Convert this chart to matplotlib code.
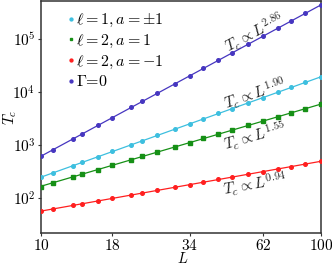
import matplotlib
matplotlib.use("Agg")
import matplotlib.pyplot as plt
import numpy as np

plt.rcParams["mathtext.fontset"] = "cm"
plt.rcParams["font.family"] = "serif"
plt.rcParams["font.serif"] = ["cmr10", "DejaVu Serif"]
plt.rcParams["axes.formatter.use_mathtext"] = True

# system sizes
L = [10, 11, 13, 14, 16, 18, 21, 23, 26, 30, 34, 38, 43, 48, 55, 62, 70, 78, 88, 100]

# critical temperatures
Tc_l1 = [248, 297, 405, 472, 600, 760, 1010, 1210, 1520, 2000, 2530, 3120, 3950, 4870,
         6300, 7900, 9900, 12200, 15300, 18900]
Tc_l2_ap = [165, 196, 250, 285, 345, 420, 528, 612, 735, 925, 1115, 1335, 1605, 1905,
            2350, 2830, 3420, 4040, 4870, 5900]
Tc_l2_am = [57, 62, 73, 78, 89, 99, 114, 125, 140, 160, 180, 200, 225, 249,
            283, 316, 355, 393, 440, 492]
Tc_gamma0 = [615, 810, 1300, 1610, 2360, 3300, 5150, 6680, 9480, 14200, 20400, 28000,
             39800, 54500, 80500, 113000, 160000, 218000, 305000, 432000]

labels = [r"$\ell=1, a=\pm1$", r"$\ell=2, a=1$", r"$\ell=2, a=-1$", r"$\Gamma$=0"]

fig = plt.figure(figsize=(3.32, 2.66), dpi=100)
ax = fig.add_axes([0.1235, 0.124, 0.8435, 0.872])

series = [
    (Tc_l1, "#3dbfdf", "o"),
    (Tc_l2_ap, "#169016", "s"),
    (Tc_l2_am, "#ff1f1f", "o"),
    (Tc_gamma0, "#4636c0", "o"),
]

Lx = np.array(L, dtype=float)
for (T, c, m), lab in zip(series, labels):
    T = np.array(T, dtype=float)
    p = np.polyfit(np.log10(Lx), np.log10(T), 1)
    xf = np.array([10, 100.0])
    ax.plot(xf, 10 ** np.polyval(p, np.log10(xf)), color=c, lw=0.9, zorder=2)
    ax.plot(Lx, T, ls="none", marker=m, ms=2.6, color=c, label=lab, zorder=3)

ax.set_xscale("log")
ax.set_yscale("log")
ax.set_xlim(10, 100)
ax.set_ylim(22, 5.2e5)
ax.set_xticks([10, 18, 34, 62, 100])
ax.set_xticklabels(["$10$", "$18$", "$34$", "$62$", "$100$"])
ax.xaxis.set_minor_locator(matplotlib.ticker.NullLocator())
ax.set_yticks([1e2, 1e3, 1e4, 1e5])
ax.set_yticklabels([r"$10^2$", r"$10^3$", r"$10^4$", r"$10^5$"])
ax.yaxis.set_minor_locator(matplotlib.ticker.NullLocator())
ax.tick_params(labelsize=11, length=2.5, width=0.8, pad=1.5, color="#333333")
ax.tick_params(axis="x", pad=1)
for s in ax.spines.values():
    s.set_linewidth(1.1)
    s.set_color("#333333")

ax.set_xlabel("$L$", fontsize=10.5)
ax.set_ylabel("$T_c$", fontsize=11)
ax.xaxis.set_label_coords(0.507, -0.079)
ax.yaxis.set_label_coords(-0.08, 0.5)

# exponent annotations along the fitted lines
ax.text(58, 1.3e5, r"$T_c\propto L^{2.86}$", fontsize=11, rotation=28,
        ha="center", va="center", color="#222222")
ax.text(58, 9.3e3, r"$T_c\propto L^{1.90}$", fontsize=11, rotation=19,
        ha="center", va="center", color="#222222")
ax.text(58, 1.5e3, r"$T_c\propto L^{1.55}$", fontsize=11, rotation=16,
        ha="center", va="center", color="#222222")
ax.text(58, 1.8e2, r"$T_c\propto L^{0.94}$", fontsize=11, rotation=10,
        ha="center", va="center", color="#222222")

ax.legend(loc="upper left", frameon=False, fontsize=11.5, handlelength=0.4,
          handletextpad=0.15, labelspacing=0.22, markerscale=0.8,
          borderaxespad=0.3, bbox_to_anchor=(0.055, 1.0))

fig.savefig("out.png", dpi=100)
